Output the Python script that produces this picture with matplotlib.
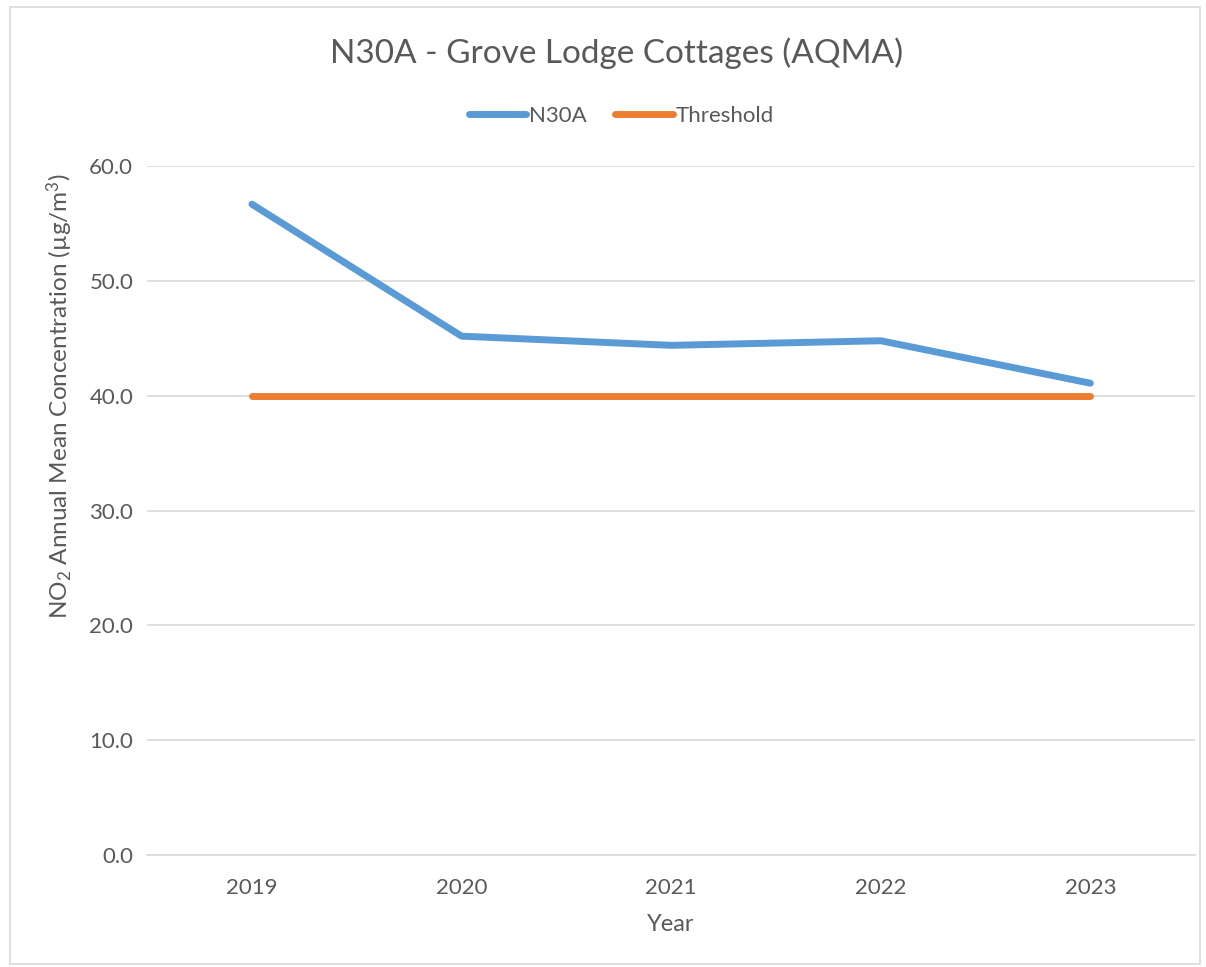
import matplotlib
matplotlib.use("Agg")
import matplotlib.pyplot as plt
from matplotlib.patches import Rectangle

years = ["2019", "2020", "2021", "2022", "2023"]
n30a = [56.7, 45.2, 44.4, 44.8, 41.1]
threshold = [40.0, 40.0, 40.0, 40.0, 40.0]
y_ticks = [0, 10, 20, 30, 40, 50, 60]

plt.rcParams['font.family'] = ['Lato', 'DejaVu Sans']
plt.rcParams['mathtext.default'] = 'regular'
text_col = '#595959'

fig = plt.figure(figsize=(12.06, 9.67), dpi=100)
ax = fig.add_axes([0.122, 0.116, 0.869, 0.712])

x = list(range(len(years)))
ax.plot(x, n30a, color='#5b9bd5', lw=5, solid_capstyle='round',
        solid_joinstyle='round', label='N30A', zorder=3)
ax.plot(x, threshold, color='#ed7d31', lw=5, solid_capstyle='round',
        label='Threshold', zorder=3)

ax.set_xlim(-0.5, len(years) - 0.5)
ax.set_ylim(0, 60)
ax.set_yticks(y_ticks)
ax.set_yticklabels([f"{v:.1f}" for v in y_ticks])
ax.set_xticks(x)
ax.set_xticklabels(years)
ax.grid(axis='y', color='#d9d9d9', lw=1.2)
ax.set_axisbelow(True)
for s in ['top', 'right', 'left']:
    ax.spines[s].set_visible(False)
ax.spines['bottom'].set_color('#d9d9d9')
ax.spines['bottom'].set_linewidth(1.2)
ax.tick_params(axis='both', length=0, colors=text_col, labelsize=16)
ax.tick_params(axis='y', pad=10)
ax.tick_params(axis='x', pad=17)

ax.set_xlabel('Year', color=text_col, fontsize=17, labelpad=11)
ax.set_ylabel('NO$_2$ Annual Mean Concentration (µg/m$^3$)', color=text_col,
              fontsize=17.5, labelpad=8)
ax.yaxis.set_label_coords(-0.069, 0.666)

fig.text(0.511, 0.945, 'N30A - Grove Lodge Cottages (AQMA)', ha='center',
         va='center', fontsize=24, color=text_col)
fig.legend(loc='center', bbox_to_anchor=(0.515, 0.880), ncol=2, frameon=False,
           fontsize=16, handlelength=2.6, handletextpad=0.1, columnspacing=1.3,
           labelcolor=text_col)

fig.patches.append(Rectangle((0.008, 0.003), 0.987, 0.99, transform=fig.transFigure,
                             fill=False, edgecolor='#d9d9d9', lw=1.2))

fig.savefig('out.png', dpi=100, facecolor='white')
